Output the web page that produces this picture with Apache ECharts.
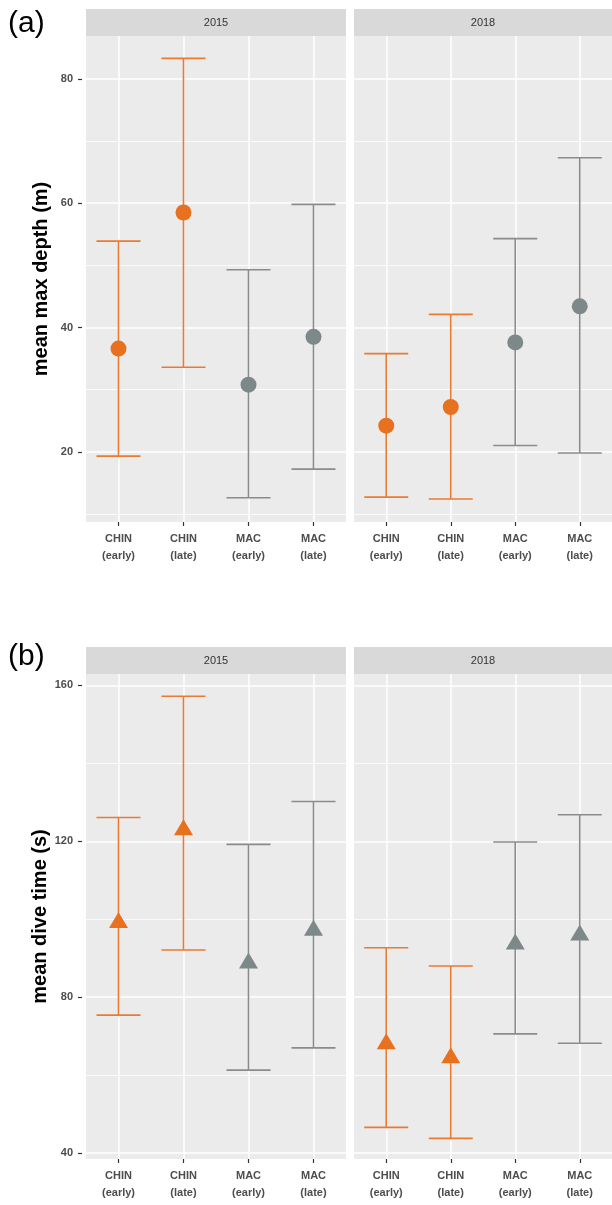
<!DOCTYPE html>
<html>
<head>
<meta charset="utf-8">
<script src="https://cdn.jsdelivr.net/npm/echarts@6/dist/echarts.min.js"></script>
<style>
  html, body { margin: 0; padding: 0; background: #fff; }
  #chart { width: 612px; height: 1205px; }
</style>
</head>
<body>
<div id="chart"></div>
<script>
// categories
var groups = ['CHIN\n(early)', 'CHIN\n(late)', 'MAC\n(early)', 'MAC\n(late)'];
var groupIndex = [0, 1, 2, 3];
var species = ['CHIN', 'CHIN', 'MAC', 'MAC'];
var years = ['2015', '2018'];

// (a) mean max depth (m)
var depth2015Mean = [36.6, 58.5, 30.8, 38.5];
var depth2015Low = [19.3, 33.6, 12.6, 17.2];
var depth2015High = [53.9, 83.3, 49.3, 59.8];
var depth2018Mean = [24.2, 27.2, 37.6, 43.4];
var depth2018Low = [12.7, 12.4, 21.0, 19.8];
var depth2018High = [35.8, 42.1, 54.3, 67.3];

// (b) mean dive time (s)
var time2015Mean = [100.5, 124.3, 90.1, 98.5];
var time2015Low = [75.4, 92.1, 61.3, 67.0];
var time2015High = [126.1, 157.2, 119.2, 130.2];
var time2018Mean = [69.4, 65.8, 95.0, 97.3];
var time2018Low = [46.6, 43.8, 70.6, 68.2];
var time2018High = [92.7, 88.0, 119.8, 126.8];

// tick labels
var depthTicks = [20, 40, 60, 80];
var depthMinorTicks = [10, 30, 50, 70];
var timeTicks = [40, 80, 120, 160];
var timeMinorTicks = [60, 100, 140];
var depthRange = [8.7, 86.9];
var timeRange = [38.5, 162.9];

var colors = { CHIN: '#E8711F', MAC: '#7D8888' };
var barColors = { CHIN: '#E97B31', MAC: '#8A8C8C' };
var font = 'Liberation Sans, Arial, sans-serif';

var chart = echarts.init(document.getElementById('chart'));

// 4 facets: a-2015, a-2018, b-2015, b-2018
var grids = [
  { left: 86, top: 36, width: 260, height: 486 },
  { left: 354, top: 36, width: 260, height: 486 },
  { left: 86, top: 674, width: 260, height: 485 },
  { left: 354, top: 674, width: 260, height: 485 }
];
grids.forEach(function (g) {
  g.show = true;
  g.backgroundColor = '#EBEBEB';
  g.borderWidth = 0;
});

var xAxes = [];
var yAxes = [];
var minorAxes = [];
for (let i = 0; i < 4; i++) {
  xAxes.push({
    type: 'value',
    gridIndex: i,
    min: -0.5,
    max: 3.5,
    axisLine: { show: false, onZero: false },
    axisTick: { show: true, length: 4, customValues: groupIndex, lineStyle: { color: '#333', width: 1.2 } },
    axisLabel: {
      customValues: groupIndex,
      formatter: function (v) { return groups[Math.round(v)]; },
      color: '#4D4D4D',
      fontWeight: 'bold',
      fontSize: 11,
      fontFamily: font,
      lineHeight: 17,
      margin: 8
    },
    splitLine: { show: true, lineStyle: { color: '#FFFFFF', width: 1.5 } }
  });
  let isDepth = i < 2;
  let range = isDepth ? depthRange : timeRange;
  yAxes.push({
    type: 'value',
    gridIndex: i,
    position: 'left',
    offset: 4,
    min: range[0],
    max: range[1],
    name: (i === 0) ? 'mean max depth (m)' : (i === 2 ? 'mean dive time (s)' : ''),
    nameLocation: 'middle',
    nameRotate: 90,
    nameGap: 31,
    nameTextStyle: { color: '#000', fontSize: 20, fontWeight: 'bold', fontFamily: font },
    axisLine: { show: false, onZero: false },
    axisTick: { show: i % 2 === 0, length: 4, customValues: isDepth ? depthTicks : timeTicks, lineStyle: { color: '#333', width: 1.2 } },
    axisLabel: {
      show: i % 2 === 0,
      customValues: isDepth ? depthTicks : timeTicks,
      color: '#4D4D4D',
      fontWeight: 'bold',
      fontSize: 11,
      fontFamily: font,
      margin: 9
    },
    splitLine: { show: true, lineStyle: { color: '#FFFFFF', width: 1.5 } }
  });
  minorAxes.push({
    type: 'value',
    gridIndex: i,
    position: 'left',
    min: range[0],
    max: range[1],
    axisLine: { show: false, onZero: false },
    axisTick: { show: false, customValues: isDepth ? depthMinorTicks : timeMinorTicks },
    axisLabel: { show: false, customValues: isDepth ? depthMinorTicks : timeMinorTicks },
    splitLine: { show: true, lineStyle: { color: '#FFFFFF', width: 0.8 } }
  });
}

function errorBarItem(params, api) {
  var x = api.value(0);
  var lo = api.coord([x, api.value(1)]);
  var hi = api.coord([x, api.value(2)]);
  var half = 22;
  var style = { stroke: api.visual('color'), lineWidth: 1.6 };
  return {
    type: 'group',
    children: [
      { type: 'line', shape: { x1: hi[0], y1: hi[1], x2: lo[0], y2: lo[1] }, style: style },
      { type: 'line', shape: { x1: hi[0] - half, y1: hi[1], x2: hi[0] + half, y2: hi[1] }, style: style },
      { type: 'line', shape: { x1: lo[0] - half, y1: lo[1], x2: lo[0] + half, y2: lo[1] }, style: style }
    ]
  };
}

var series = [];
function addFacet(idx, mean, low, high, symbol) {
  ['CHIN', 'MAC'].forEach(function (sp) {
    var bars = [];
    var pts = [];
    for (let i = 0; i < groups.length; i++) {
      if (species[i] !== sp) continue;
      bars.push([groupIndex[i], low[i], high[i]]);
      pts.push([groupIndex[i], mean[i]]);
    }
    series.push({
      type: 'custom',
      xAxisIndex: idx,
      yAxisIndex: idx,
      renderItem: errorBarItem,
      itemStyle: { color: barColors[sp] },
      encode: { x: 0, y: [1, 2] },
      data: bars,
      silent: true,
      z: 2
    });
    series.push({
      type: 'scatter',
      xAxisIndex: idx,
      yAxisIndex: idx,
      symbol: symbol,
      symbolSize: symbol === 'circle' ? 16 : [19, 16],
      symbolOffset: symbol === 'circle' ? [0, 0] : [0, 2.7],
      itemStyle: { color: colors[sp], opacity: 1 },
      data: pts,
      silent: true,
      z: 3
    });
  });
}
addFacet(0, depth2015Mean, depth2015Low, depth2015High, 'circle');
addFacet(1, depth2018Mean, depth2018Low, depth2018High, 'circle');
addFacet(2, time2015Mean, time2015Low, time2015High, 'triangle');
addFacet(3, time2018Mean, time2018Low, time2018High, 'triangle');

// facet strips and panel letters
var graphic = [];
grids.forEach(function (g, i) {
  graphic.push({
    type: 'rect',
    left: g.left,
    top: g.top - 27,
    shape: { width: g.width, height: 27 },
    style: { fill: '#D9D9D9' },
    silent: true
  });
  graphic.push({
    type: 'text',
    x: g.left + g.width / 2 - (i % 2 === 1 ? 1 : 0),
    y: g.top - 13.5,
    style: {
      text: years[i % 2],
      fill: '#333333',
      font: '11px ' + font,
      align: 'center',
      verticalAlign: 'middle'
    },
    silent: true
  });
});
graphic.push({
  type: 'text', x: 8, y: 9,
  style: { text: '(a)', fill: '#000', font: '30px ' + font },
  silent: true
});
graphic.push({
  type: 'text', x: 8, y: 642,
  style: { text: '(b)', fill: '#000', font: '30px ' + font },
  silent: true
});

chart.setOption({
  backgroundColor: '#FFFFFF',
  animation: false,
  grid: grids,
  xAxis: xAxes,
  yAxis: yAxes.concat(minorAxes),
  series: series,
  graphic: graphic
});
</script>
</body>
</html>
